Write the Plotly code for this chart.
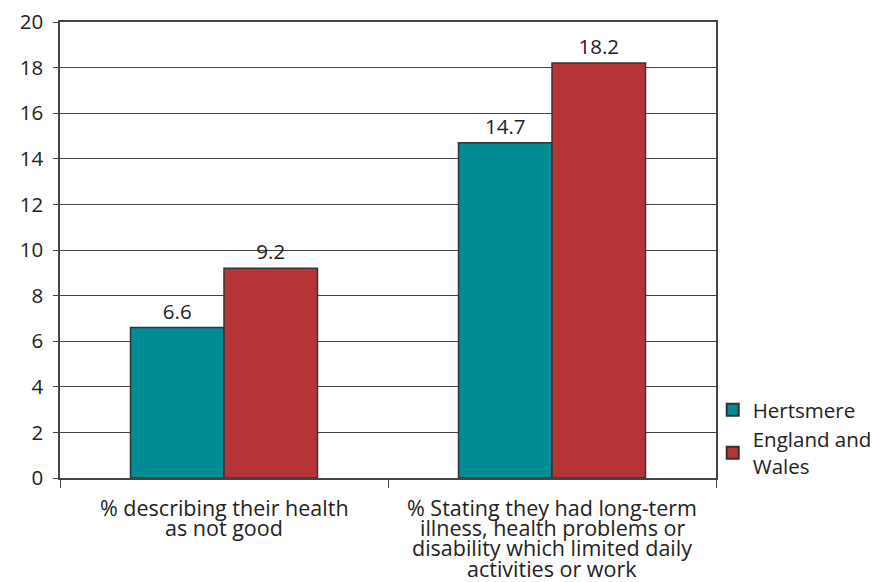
import plotly.graph_objects as go

categories = ["% describing their health<br>as not good",
              "% Stating they had long-term<br>illness, health problems or<br>disability which limited daily<br>activities or work"]
series_names = ["Hertsmere", "England and<br>Wales"]
hertsmere = [6.6, 14.7]
england_wales = [9.2, 18.2]
y_ticks = [0, 2, 4, 6, 8, 10, 12, 14, 16, 18, 20]

colors = ["#008C95", "#B73436"]
font_family = "Open Sans, Noto Sans, sans-serif"
FS = 20.5
TXT = "#222222"

fig = go.Figure()
for name, vals, col in zip(series_names, [hertsmere, england_wales], colors):
    fig.add_trace(go.Bar(
        x=categories, y=vals, name=name,
        marker=dict(color=col, line=dict(color="#333333", width=1.5)),
        text=[f"{v:.1f}" for v in vals], textposition="outside",
        textfont=dict(size=FS, color=TXT, family=font_family),
        cliponaxis=False,
    ))

# category labels drawn as text under each category with tight line spacing
for cat in categories:
    for i, line in enumerate(cat.split("<br>")):
        fig.add_annotation(x=cat, xref="x", y=0, yref="paper",
                           text=line, showarrow=False,
                           yanchor="middle", yshift=-(29 + i * 20.4),
                           font=dict(size=21.5, color=TXT, family=font_family))

fig.update_layout(
    width=872, height=574,
    margin=dict(l=52, r=164, t=14, b=104, autoexpand=False),
    paper_bgcolor="white", plot_bgcolor="white",
    barmode="group", bargap=0.43, bargroupgap=0,
    font=dict(family=font_family, size=FS, color=TXT),
    showlegend=True,
    legend=dict(x=0.995, xanchor="left", y=0.193, yanchor="top",
                font=dict(size=FS, color=TXT),
                bgcolor="rgba(0,0,0,0)", tracegroupgap=0,
                itemsizing="constant", itemwidth=30),
)
fig.update_yaxes(range=[0, 20], tickvals=y_ticks, showgrid=True,
                 gridcolor="#444444", gridwidth=1, automargin=False,
                 showline=True, linecolor="#444444", linewidth=1.5,
                 mirror=True, ticks="outside", ticklen=5, tickcolor="#444444",
                 ticklabelstandoff=6, ticklabeloverflow="allow",
                 tickfont=dict(size=FS), zeroline=False)
fig.update_xaxes(showline=True, linecolor="#444444", linewidth=1.5, mirror=True,
                 ticks="outside", tickson="boundaries", ticklen=8, automargin=False,
                 tickcolor="#444444", showticklabels=False)

fig.write_html("out.html")
